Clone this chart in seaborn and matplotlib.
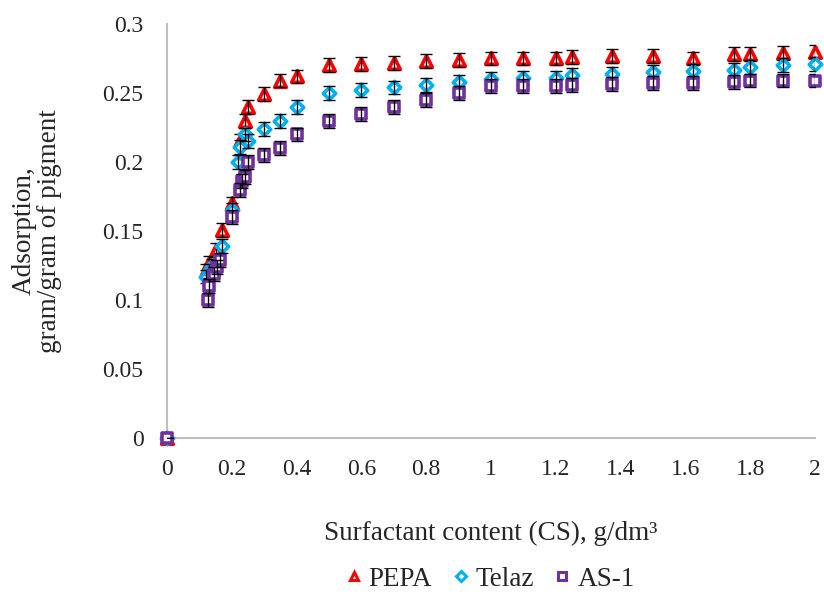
import matplotlib
matplotlib.use("Agg")
import matplotlib.pyplot as plt
from matplotlib.lines import Line2D
import seaborn as sns
import pandas as pd
import numpy as np

series_names = ["PEPA", "Telaz", "AS-1"]

pepa_x = [0, 0.12, 0.13, 0.15, 0.17, 0.2, 0.225, 0.24, 0.25, 0.3, 0.35, 0.4, 0.5, 0.6, 0.7,
          0.8, 0.9, 1.0, 1.1, 1.2, 1.25, 1.375, 1.5, 1.625, 1.75, 1.8, 1.9, 2.0]
pepa_y = [0, 0.121, 0.127, 0.136, 0.151, 0.170, 0.215, 0.230, 0.240, 0.249, 0.259, 0.262, 0.270,
          0.271, 0.272, 0.273, 0.274, 0.275, 0.275, 0.275, 0.276, 0.277, 0.277, 0.275, 0.278,
          0.278, 0.279, 0.280]

telaz_x = [0, 0.12, 0.13, 0.14, 0.17, 0.2, 0.22, 0.225, 0.24, 0.25, 0.3, 0.35, 0.4, 0.5, 0.6,
           0.7, 0.8, 0.9, 1.0, 1.1, 1.2, 1.25, 1.375, 1.5, 1.625, 1.75, 1.8, 1.9, 2.0]
telaz_y = [0, 0.117, 0.121, 0.125, 0.139, 0.165, 0.200, 0.211, 0.220, 0.215, 0.224, 0.230, 0.240,
           0.250, 0.252, 0.254, 0.256, 0.258, 0.260, 0.261, 0.261, 0.263, 0.264, 0.265, 0.266,
           0.267, 0.269, 0.270, 0.271]

as1_x = [0, 0.125, 0.13, 0.145, 0.155, 0.165, 0.2, 0.225, 0.23, 0.24, 0.25, 0.3, 0.35, 0.4, 0.5,
         0.6, 0.7, 0.8, 0.9, 1.0, 1.1, 1.2, 1.25, 1.375, 1.5, 1.625, 1.75, 1.8, 1.9, 2.0]
as1_y = [0, 0.100, 0.110, 0.119, 0.124, 0.129, 0.160, 0.180, 0.186, 0.189, 0.200, 0.205, 0.210,
         0.220, 0.230, 0.235, 0.240, 0.245, 0.250, 0.255, 0.255, 0.255, 0.256, 0.2565, 0.257,
         0.257, 0.258, 0.259, 0.259, 0.259]

err_value = 0.005

x_ticks = [0, 0.2, 0.4, 0.6, 0.8, 1.0, 1.2, 1.4, 1.6, 1.8, 2.0]
x_tick_labels = ["0", "0.2", "0.4", "0.6", "0.8", "1", "1.2", "1.4", "1.6", "1.8", "2"]
y_ticks = [0, 0.05, 0.1, 0.15, 0.2, 0.25, 0.3]
y_tick_labels = ["0", "0.05", "0.1", "0.15", "0.2", "0.25", "0.3"]

colors = {"PEPA": "#FF0000", "Telaz": "#00B0F0", "AS-1": "#7030A0"}
markers = {"PEPA": "^", "Telaz": "D", "AS-1": "s"}
sizes = {"PEPA": 70, "Telaz": 40, "AS-1": 60}

sns.set_theme(style="white")
plt.rcParams["font.family"] = ["Liberation Serif", "DejaVu Serif"]
FS = 17
FL = 19.5

fig = plt.figure(figsize=(8.24, 5.94), dpi=100)
ax = fig.add_axes([0.2027, 0.2626, 0.7863, 0.697])

data = {"PEPA": (pepa_x, pepa_y), "Telaz": (telaz_x, telaz_y), "AS-1": (as1_x, as1_y)}
for i, name in enumerate(series_names):
    xs, ys = data[name]
    df = pd.DataFrame({"x": xs, "y": ys})
    sns.scatterplot(data=df, x="x", y="y", marker=markers[name], s=sizes[name],
                    color="white", edgecolor=colors[name], linewidth=2.6, ax=ax,
                    zorder=2 + i, legend=False, clip_on=False)
    errs = np.array([0 if v == 0 else err_value for v in ys])
    ax.errorbar(xs, ys, yerr=errs, fmt="none", ecolor="black", elinewidth=1.0,
                capsize=4.5, capthick=1.0, zorder=2 + i + 0.5)

ax.set_xlim(0, 2)
ax.set_ylim(0, 0.3)
ax.set_xticks(x_ticks)
ax.set_xticklabels(x_tick_labels, fontsize=FS)
ax.set_yticks(y_ticks)
ax.set_yticklabels(y_tick_labels, fontsize=FS)
ax.tick_params(axis="both", direction="in", length=6, width=1.2, color="#BFBFBF")
ax.tick_params(axis="y", pad=17)
ax.tick_params(axis="x", pad=15)
for side in ["top", "right"]:
    ax.spines[side].set_visible(False)
for side in ["left", "bottom"]:
    ax.spines[side].set_color("#BFBFBF")
    ax.spines[side].set_linewidth(1.5)

ax.set_xlabel("Surfactant content (CS), g/dm³", fontsize=FL, labelpad=0)
ax.xaxis.set_label_coords(0.5, -0.2)
ax.set_ylabel("Adsorption,\ngram/gram of pigment", fontsize=FL, linespacing=1.0)
ax.yaxis.set_label_coords(-0.162, 0.5)

handles = [Line2D([], [], linestyle="none", marker=markers[n], markersize=6 if n != "Telaz" else 5,
                  markerfacecolor="white", markeredgecolor=colors[n], markeredgewidth=2.2)
           for n in series_names]
fig.legend(handles, series_names, loc="center", bbox_to_anchor=(0.593, 0.025), ncol=3,
           frameon=False, fontsize=FL, handlelength=0.8, handletextpad=0.15, columnspacing=0.65)

fig.savefig("out.png", dpi=100)
